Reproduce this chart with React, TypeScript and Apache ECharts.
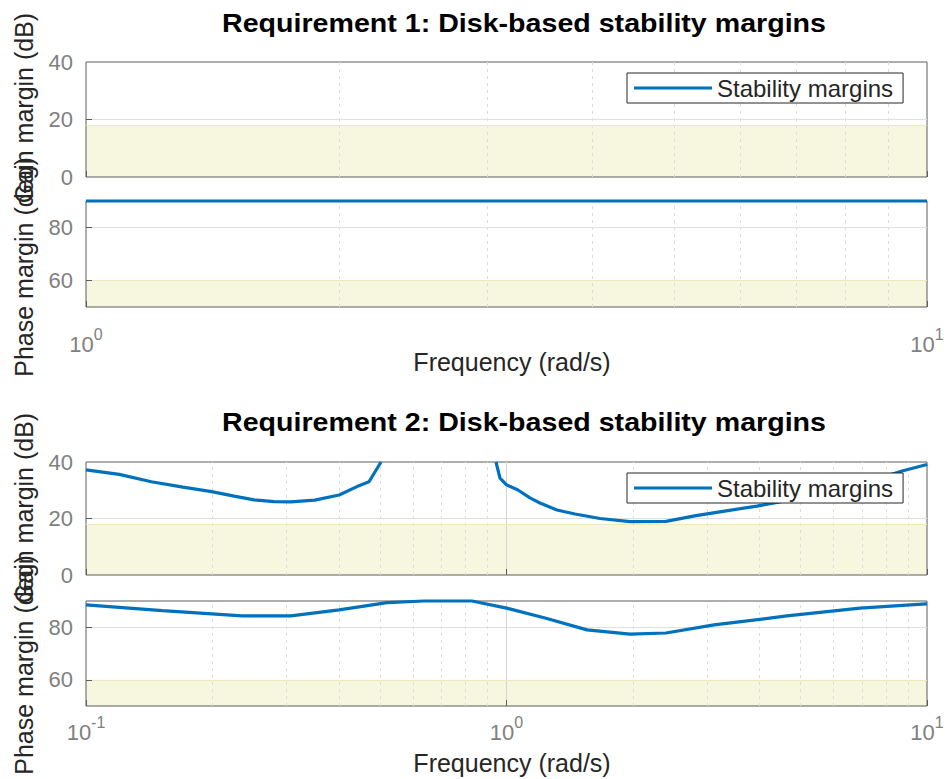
import React, { useEffect, useRef } from 'react';
import * as echarts from 'echarts';

const titles = [
  'Requirement 1: Disk-based stability margins',
  'Requirement 2: Disk-based stability margins',
];
const gainAxisName = 'Gain margin (dB)';
const phaseAxisName = 'Phase margin (deg)';
const freqAxisName = 'Frequency (rad/s)';
const legendName = 'Stability margins';

const freqRange1 = [1, 10];
const freqRange2 = [0.1, 10];
const gainRange = [0, 40];
const phaseRange = [50, 90];
const gainTicks = [0, 20, 40];
const phaseTicks = [60, 80];
const gainBound = [0, 18];
const phaseBound = [50, 60];

const minorFreq1 = [2, 3, 4, 5, 6, 7, 8, 9];
const minorFreq2 = [0.2, 0.3, 0.4, 0.5, 0.6, 0.7, 0.8, 0.9, 2, 3, 4, 5, 6, 7, 8, 9];
const decadeFreq2 = [1];

const req1PhaseFreq = [1, 10];
const req1PhaseMargin = [90, 90];

const req2GainFreq = [
  0.1, 0.12, 0.143, 0.17, 0.199, 0.225, 0.251, 0.28, 0.307, 0.35, 0.4, 0.441, 0.471, 0.503,
  0.7,
  0.944, 0.965, 1.0, 1.065, 1.137, 1.201, 1.318, 1.455, 1.669, 1.966, 2.394, 2.823, 3.3, 3.942,
  5.0, 6.0, 7.2, 8.72, 9.95, 10,
];
const req2GainMargin = [
  37.2, 35.6, 33.0, 31.1, 29.5, 27.9, 26.6, 26.0, 25.9, 26.5, 28.3, 31.3, 33.0, 40,
  null,
  40, 34.3, 31.9, 30.1, 27.3, 25.5, 23.0, 21.6, 20.0, 18.9, 19.0, 21.0, 22.6, 24.4,
  27.2, 29.8, 32.8, 36.8, 39.0, 39.2,
];

const req2PhaseFreq = [
  0.1, 0.152, 0.235, 0.307, 0.4, 0.52, 0.637, 0.828, 1.0, 1.235, 1.554, 1.966, 2.394, 3.116,
  4.645, 6.93, 9.95, 10,
];
const req2PhaseMargin = [
  88.5, 86.3, 84.3, 84.3, 86.6, 89.4, 90, 90, 87.3, 83.5, 79, 77.4, 77.8, 80.9,
  84.3, 87.3, 88.9, 88.9,
];

const FONT = '"Liberation Sans", Arial, Helvetica, sans-serif';
const BLUE = '#0072BD';
const TICK_COLOR = '#808080';
const TEXT_COLOR = '#262626';

const zip = (xs: number[], ys: (number | null)[]) => xs.map((x, i) => [x, ys[i]]);

export default function App() {
  const ref = useRef<HTMLDivElement>(null);
  useEffect(() => {
    if (!ref.current) return;
    const chart = echarts.init(ref.current, undefined, { renderer: 'svg' });

    const grids = [
      { left: 86, top: 62, width: 841, height: 115 },
      { left: 86, top: 201, width: 841, height: 106 },
      { left: 86, top: 462, width: 841, height: 113 },
      { left: 86, top: 601, width: 841, height: 105 },
    ].map((g) => ({
      ...g,
      show: true,
      z: 4,
      backgroundColor: 'transparent',
      borderColor: '#5c5c5c',
      borderWidth: 1,
      containLabel: false,
    }));

    const xRanges = [freqRange1, freqRange1, freqRange2, freqRange2];
    const xAxes = xRanges.map((r, i) => ({
      type: 'log',
      logBase: 10,
      gridIndex: i,
      min: r[0],
      max: r[1],
      z: 5,
      axisLine: { show: false },
      axisTick: { show: true, inside: true, length: 6, lineStyle: { color: '#5c5c5c' } },
      splitLine: { show: false },
      axisLabel: {
        show: i % 2 === 1,
        margin: i === 1 ? 19 : 8,
        formatter: (v: number) => `{b|10}{s|${Math.round(Math.log10(v))}}`,
        rich: {
          b: { fontSize: 22, fontFamily: FONT, color: TICK_COLOR },
          s: { fontSize: 16, fontFamily: FONT, color: TICK_COLOR, padding: [0, 0, 20, 0] },
        },
      },
    }));

    const yAxes = [0, 1, 2, 3].map((i) => {
      const isGain = i % 2 === 0;
      const r = isGain ? gainRange : phaseRange;
      const ticks = isGain ? gainTicks : phaseTicks;
      return {
        type: 'value',
        gridIndex: i,
        min: r[0],
        max: r[1],
        interval: 10,
        z: 5,
        axisLine: { show: false },
        axisTick: { show: true, inside: true, length: 6, customValues: ticks.filter((t) => t > r[0] && t < r[1]), lineStyle: { color: '#5c5c5c' } },
        axisLabel: {
          customValues: ticks,
          margin: 13,
          fontSize: 22,
          fontFamily: FONT,
          color: TICK_COLOR,
        },
        splitLine: { show: false },
      };
    });

    const bgSeries = (i: number) => {
      const isGain = i % 2 === 0;
      const bound = isGain ? gainBound : phaseBound;
      const hLine = isGain ? 20 : 80;
      const minor = i < 2 ? minorFreq1 : minorFreq2;
      const decades = i < 2 ? [] : decadeFreq2;
      return {
        type: 'line',
        name: 'bg' + i,
        xAxisIndex: i,
        yAxisIndex: i,
        data: [],
        silent: true,
        z: 1,
        markArea: {
          silent: true,
          itemStyle: { color: '#F7F6DF', borderWidth: 0 },
          label: { show: false },
          data: [[{ yAxis: bound[0] }, { yAxis: bound[1] }]],
        },
        markLine: {
          silent: true,
          symbol: 'none',
          animation: false,
          label: { show: false },
          data: [
            ...minor.map((v) => ({ xAxis: v, lineStyle: { type: [3, 4], color: '#dcdcdc', width: 1 } })),
            ...decades.map((v) => ({ xAxis: v, lineStyle: { type: 'solid', color: '#d4d4d4', width: 1 } })),
            { yAxis: hLine, lineStyle: { type: 'solid', color: '#e0e0e0', width: 1 } },
            { yAxis: bound[1], lineStyle: { type: 'solid', color: '#ECE9BC', width: 1 } },
          ],
        },
      };
    };

    const lineStyle = { color: BLUE, width: 3.2 };
    const mainSeries = [
      { idx: 1, data: zip(req1PhaseFreq, req1PhaseMargin) },
      { idx: 2, data: zip(req2GainFreq, req2GainMargin) },
      { idx: 3, data: zip(req2PhaseFreq, req2PhaseMargin) },
    ].map((s) => ({
      type: 'line',
      name: legendName,
      xAxisIndex: s.idx,
      yAxisIndex: s.idx,
      data: s.data,
      showSymbol: false,
      symbol: 'none',
      clip: false,
      connectNulls: false,
      z: 6,
      color: BLUE,
      lineStyle,
    }));

    const legendBase = {
      data: [legendName],
      selectedMode: false,
      orient: 'horizontal',
      icon: 'rect',
      itemWidth: 78,
      itemHeight: 3,
      itemGap: 0,
      padding: [3, 10, 3, 7],
      backgroundColor: '#ffffff',
      borderColor: TEXT_COLOR,
      borderWidth: 1,
      borderRadius: 0,
      z: 8,
      textStyle: { fontSize: 24, fontFamily: FONT, color: TEXT_COLOR, padding: [0, 0, 0, 0] },
    };

    const textEl = (text: string, x: number, y: number, opts: any = {}) => ({
      type: 'text',
      x,
      y,
      z: 10,
      rotation: opts.rotation || 0,
      scaleX: opts.scaleX || 1,
      style: {
        text,
        fontSize: opts.fontSize || 25,
        fontWeight: opts.fontWeight || 'normal',
        fontFamily: FONT,
        fill: opts.fill || TEXT_COLOR,
        align: 'center',
        verticalAlign: 'middle',
      },
    });

    const graphics = [
      textEl(titles[0], 524, 23.5, { fontWeight: 'bold', fontSize: 25, scaleX: 1.144, fill: '#000' }),
      textEl(titles[1], 524, 422.5, { fontWeight: 'bold', fontSize: 25, scaleX: 1.144, fill: '#000' }),
      textEl(freqAxisName, 512, 362),
      textEl(freqAxisName, 512, 763),
      textEl(gainAxisName, 24, 108, { rotation: Math.PI / 2 }),
      textEl(phaseAxisName, 24, 267, { rotation: Math.PI / 2 }),
      textEl(gainAxisName, 24, 508, { rotation: Math.PI / 2 }),
      textEl(phaseAxisName, 24, 665, { rotation: Math.PI / 2 }),
    ];

    chart.setOption({
      animation: false,
      backgroundColor: '#ffffff',
      grid: grids,
      xAxis: xAxes,
      yAxis: yAxes,
      legend: [
        { ...legendBase, left: 627, top: 73 },
        { ...legendBase, left: 627, top: 473 },
      ],
      series: [0, 1, 2, 3].map(bgSeries).concat(mainSeries as any),
      graphic: graphics,
    });

    return () => chart.dispose();
  }, []);

  return <div ref={ref} style={{ position: 'fixed', left: 0, top: 0, width: 948, height: 779 }} />;
}
